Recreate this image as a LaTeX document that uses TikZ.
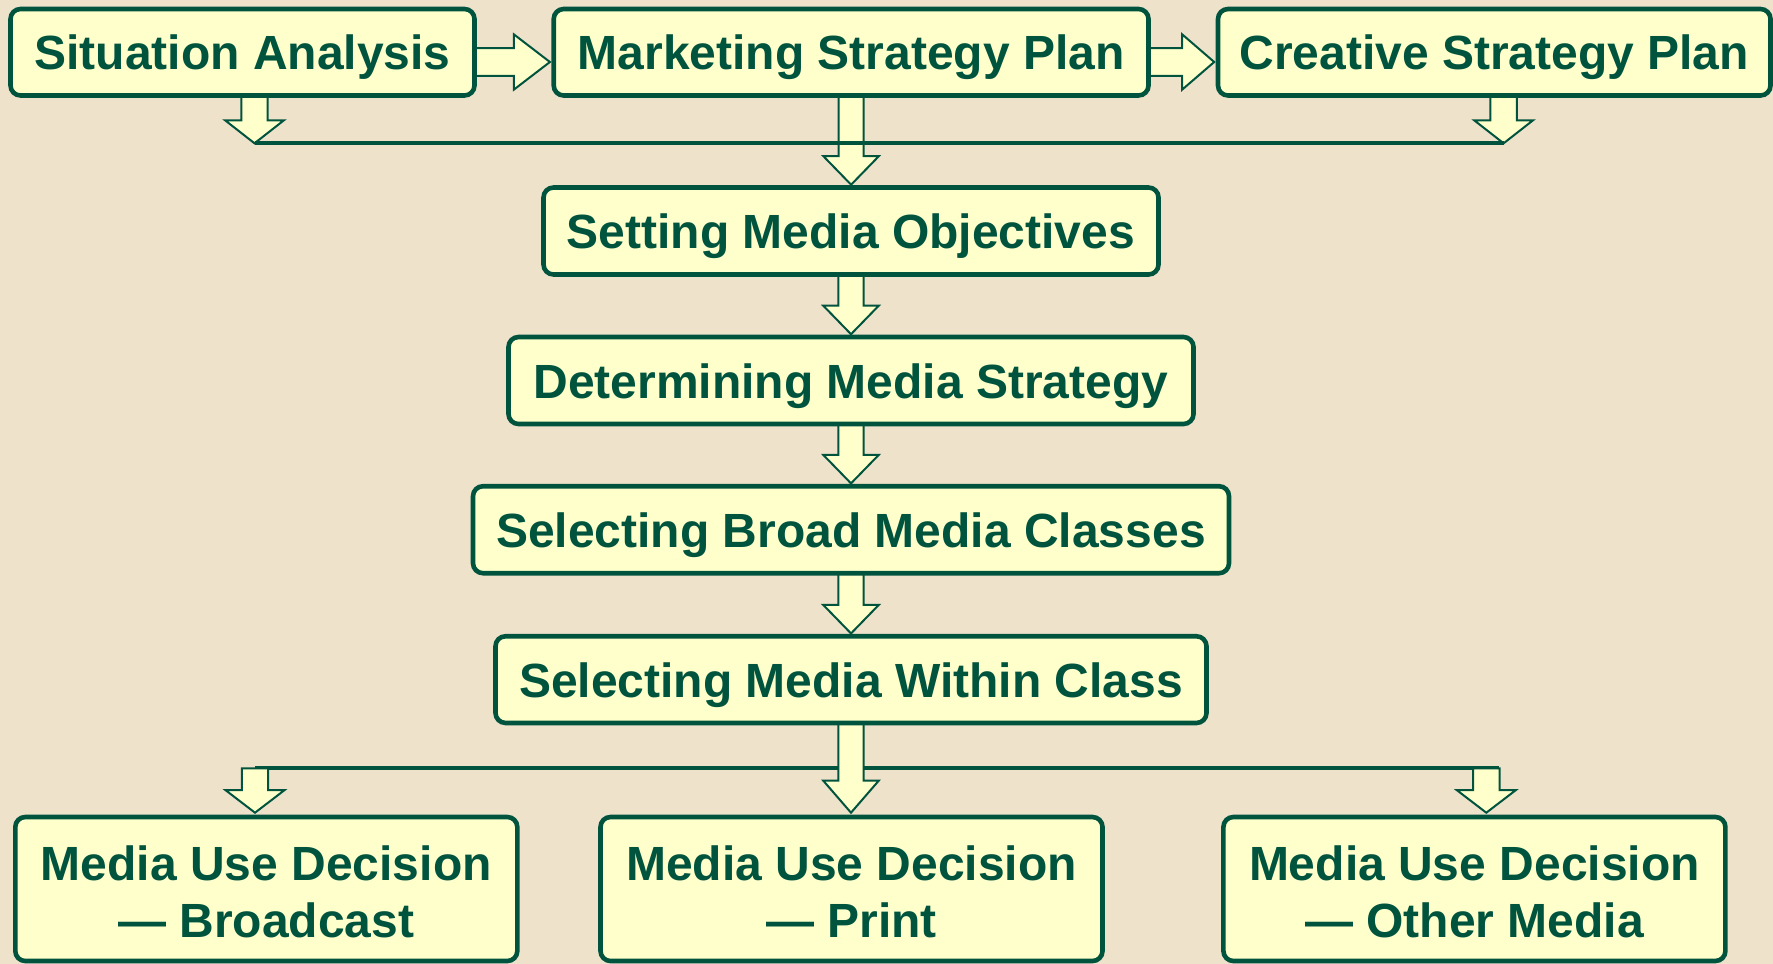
\documentclass[tikz,border=0pt]{standalone}
\usepackage{fontspec}
\setmainfont{Liberation Sans}
\usetikzlibrary{calc}

\definecolor{bgtan}{RGB}{238,226,203}
\definecolor{boxfill}{RGB}{255,255,204}
\definecolor{deepgreen}{RGB}{0,84,62}

\pgfdeclarelayer{canvas}
\pgfdeclarelayer{links}
\pgfsetlayers{canvas,links,main}

\tikzset{
  stage/.style={draw=deepgreen, line width=4.6pt, fill=boxfill, rounded corners=10pt,
    text=deepgreen, font=\fontsize{48}{57}\selectfont\bfseries, inner sep=0pt,
    minimum height=86.5pt, text height=35pt, text depth=0pt},
  decision/.style={stage, minimum height=144pt, minimum width=502pt,
    text height=40pt, text depth=58pt},
  blockarrow/.style={draw=deepgreen, line width=2pt, fill=boxfill, line join=miter},
  busline/.style={draw=deepgreen, line width=4pt},
}

% hollow block arrow pointing down: #1 top centre, #2 point giving the tip level,
% #3 shaft half-width, #4 head half-width, #5 head length, #6 gap before the tip
\newcommand\blockdown[6]{%
  \path[blockarrow] let \p1=(#1), \p2=(#2) in
    (\x1-#3,\y1) -- (\x1-#3,\y2+#6+#5) -- (\x1-#4,\y2+#6+#5) -- (\x1,\y2+#6)
    -- (\x1+#4,\y2+#6+#5) -- (\x1+#3,\y2+#6+#5) -- (\x1+#3,\y1) -- cycle;}

% hollow block arrow pointing right: #1 start (gives the level), #2 tip point,
% #3 shaft half-width, #4 head half-width, #5 head length
\newcommand\blockright[5]{%
  \path[blockarrow] let \p1=(#1), \p2=(#2) in
    (\x1,\y1+#3) -- (\x2-#5,\y1+#3) -- (\x2-#5,\y1+#4) -- (\x2,\y1)
    -- (\x2-#5,\y1-#4) -- (\x2-#5,\y1-#3) -- (\x1,\y1-#3) -- cycle;}

\newcommand\twolines[2]{\begin{tabular}[t]{@{}c@{}}#1\\#2\end{tabular}}

\begin{document}
\begin{tikzpicture}[x=1pt, y=-1pt]
  \useasboundingbox (0,0) rectangle (1773,964);
  \begin{pgfonlayer}{canvas}
    \fill[bgtan] (0,0) rectangle (1773,964);
  \end{pgfonlayer}

  % planning inputs
  \node[stage, minimum width=464pt]   (sa)  at (242.5,52.25)  {Situation Analysis};
  \node[stage, minimum width=594.8pt] (msp) at (851.1,52.25)  {Marketing Strategy Plan};
  \node[stage, minimum width=552.5pt] (csp) at (1494.25,52.25) {Creative Strategy Plan};

  % media planning chain
  \node[stage, minimum width=615pt, minimum height=87pt] (smo) at (851,231)   {Setting Media Objectives};
  \node[stage, minimum width=685pt, minimum height=87pt] (dms) at (851,380.5) {Determining Media Strategy};
  \node[stage, minimum width=756pt, minimum height=87pt] (sbm) at (851,529.7) {Selecting Broad Media Classes};
  \node[stage, minimum width=711pt, minimum height=86.7pt] (smw) at (851,679.6) {Selecting Media Within Class};

  % media use decisions
  \node[decision] (mbc) at (266.3,889)  {\twolines{Media Use Decision}{— Broadcast}};
  \node[decision] (mpr) at (851.5,889)  {\twolines{Media Use Decision}{— Print}};
  \node[decision] (mot) at (1474.4,889) {\twolines{Media Use Decision}{— Other Media}};

  % junction points of the two bus lines
  \coordinate (jl) at (254.5,143.3);
  \coordinate (jr) at (1503.6,143.3);
  \coordinate (busL) at (255,768.3);
  \coordinate (busR) at (1499,768.3);
  \coordinate (dropR) at (1486.3,768.3);

  \begin{pgfonlayer}{links}
    % sideways flow along the top row (shafts start behind the boxes)
    \blockright{$(sa.center)+(0,9.75)$}{$(msp.west)+(-1.5,0)$}{13.8pt}{27.6pt}{36pt}
    \blockright{$(msp.center)+(0,9.75)$}{$(csp.west)+(-1.5,0)$}{13.8pt}{27.6pt}{32pt}

    % inputs gathered onto the upper bus
    \blockdown{jl |- sa.center}{jl}{13.2pt}{29.4pt}{23pt}{0pt}
    \blockdown{jr |- csp.center}{jr}{13.2pt}{29.4pt}{23pt}{0pt}
    \blockdown{msp.center}{smo.north}{12.6pt}{27.7pt}{28.5pt}{0.5pt}
    \draw[busline] (jl) -- (jr);

    % main chain
    \blockdown{smo.center}{dms.north}{12.6pt}{27.7pt}{28.5pt}{0.5pt}
    \blockdown{dms.center}{sbm.north}{12.6pt}{27.7pt}{28.5pt}{0.5pt}
    \blockdown{sbm.center}{smw.north}{12.6pt}{27.7pt}{28.5pt}{0.5pt}

    % lower bus feeding the three decisions
    \draw[busline] (busL) -- (busR);
    \blockdown{busL}{busL |- mbc.north}{13.2pt}{29.4pt}{22.5pt}{2pt}
    \blockdown{dropR}{dropR |- mot.north}{13.2pt}{29.4pt}{22.5pt}{2pt}
    \blockdown{smw.center}{mpr.north}{12.6pt}{27.7pt}{32pt}{2pt}
  \end{pgfonlayer}
\end{tikzpicture}
\end{document}
